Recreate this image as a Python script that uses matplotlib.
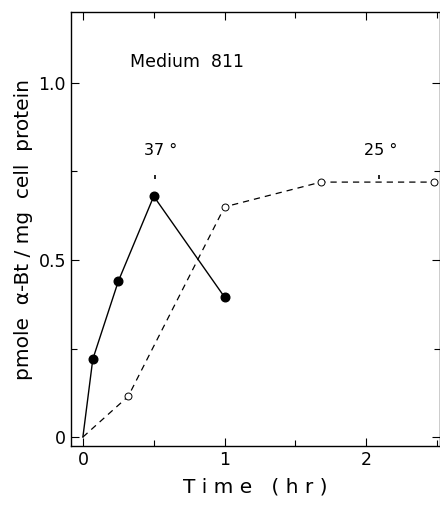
import numpy as np
import matplotlib.pyplot as plt
from matplotlib.ticker import MultipleLocator

plt.rcParams['font.family'] = ['DejaVu Sans']

# 37 deg series (filled circles, solid line)
t37 = [0.0, 0.07, 0.25, 0.5, 1.0]
y37 = [0.0, 0.22, 0.44, 0.68, 0.395]

# 25 deg series (open circles, dashed line)
t25 = [0.0, 0.32, 1.0, 1.68, 2.48]
y25 = [0.0, 0.115, 0.65, 0.72, 0.72]

# small marks under the temperature labels
mark_t = [0.51, 2.09]
mark_y = [0.735, 0.735]

fig = plt.figure(figsize=(4.4, 5.05), dpi=100)
ax = fig.add_axes([0.161, 0.117, 0.839, 0.859])

ax.plot(t37, y37, color='black', lw=1.0, zorder=2)
ax.plot(t37[1:], y37[1:], 'o', color='black', ms=6.2, zorder=3)

ax.plot(t25, y25, color='black', lw=0.9, ls=(0, (5, 4)), zorder=2)
ax.plot(t25[1:], y25[1:], 'o', mfc='white', mec='black', mew=0.7, ms=5, zorder=3)

ax.plot(mark_t, mark_y, '|', color='black', ms=3, mew=1.2)

ax.set_xlim(-0.085, 2.52)
ax.set_ylim(-0.025, 1.2)

ax.xaxis.set_minor_locator(MultipleLocator(0.5))
ax.yaxis.set_minor_locator(MultipleLocator(0.25))
ax.set_xticks([0, 1, 2])
ax.set_xticklabels(['0', '1', '2'])
ax.set_yticks([0, 0.5, 1.0])
ax.set_yticklabels(['0', '0.5', '1.0'])

ax.tick_params(which='both', direction='in', top=True, right=True,
               labelsize=12.5, width=0.8, colors='black')
ax.tick_params(which='major', length=6)
ax.tick_params(which='minor', length=4)
for s in ax.spines.values():
    s.set_linewidth(1.0)

ax.text(0.33, 1.06, 'Medium  811', fontsize=12.5, ha='left', va='center')
ax.text(0.55, 0.81, '37 °', fontsize=11.5, ha='center', va='center')
ax.text(2.1, 0.81, '25 °', fontsize=11.5, ha='center', va='center')

ax.set_xlabel('T i m e   ( h r )', fontsize=14.5, labelpad=6)
ax.set_ylabel('pmole  α-Bt / mg  cell  protein', fontsize=14.5, labelpad=4)

fig.savefig('out.png', dpi=100)
